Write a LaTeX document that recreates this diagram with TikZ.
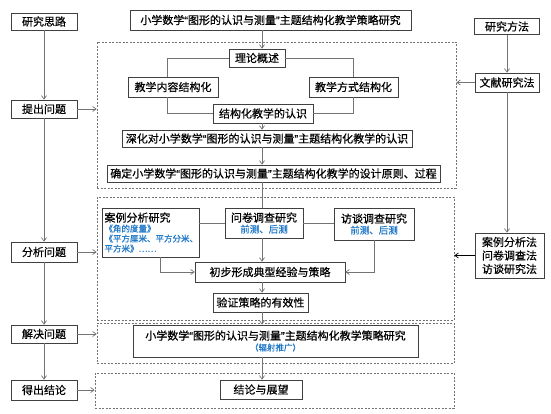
\documentclass[tikz,border=0pt]{standalone}
\usepackage{fontspec}
\setmainfont{Noto Sans CJK SC}[UprightFeatures={FakeBold=0.5}]
\newfontfamily\latinq{Liberation Sans}[FakeBold=0.5]
\usetikzlibrary{positioning,arrows.meta}
\definecolor{noteblue}{RGB}{32,120,200}
\newcommand{\tq}[1]{{\latinq\char"201C}#1{\latinq\char"201D}}
\newcommand{\bluenote}[2]{{\fontsize{#1}{#1}\selectfont\color{noteblue}#2}}

\begin{document}
\begin{tikzpicture}[x=1pt,y=-1pt,
  box/.style={draw=black!75,fill=white,line width=0.6pt,inner sep=1pt,font=\fontsize{11}{13}\selectfont},
  frame/.style={draw=black!55,dash pattern=on 2pt off 1.5pt,line width=0.6pt,inner sep=0pt},
  link/.style={draw=black!55,line width=0.7pt},
  arr/.style={link,-{Straight Barb[length=3.5pt,width=5pt]}}]
\useasboundingbox (0,0) rectangle (551,414);
% dashed frames
\node[frame,minimum width=359pt,minimum height=146pt] (fr1) at (276.5,115) {};
\node[frame,minimum width=357pt,minimum height=123pt] (fr2) at (275.5,258.5) {};
\node[frame,minimum width=357pt,minimum height=40pt] (fr3) at (275.5,343) {};
\node[frame,minimum width=359pt,minimum height=35pt] (fr4) at (274.5,390.5) {};
\coordinate (axis) at (262,0);
% left column
\node[box,minimum width=66pt,minimum height=17pt] (idea) at (44,21.5) {研究思路};
\node[box,minimum width=66pt,minimum height=18pt] (pose) at (44,109) {提出问题};
\node[box,minimum width=66pt,minimum height=20pt] (anal) at (44,252) {分析问题};
\node[box,minimum width=66pt,minimum height=18pt] (solve) at (44,334) {解决问题};
\node[box,minimum width=66pt,minimum height=20pt] (concl) at (44,390) {得出结论};
% right column
\node[box,minimum width=65pt,minimum height=16pt] (method) at (507,26.5) {研究方法};
\node[box,minimum width=64pt,minimum height=19pt] (lit) at (507,82.5) {文献研究法};
\node[box,minimum width=69pt,minimum height=45pt,align=center,font=\fontsize{11}{13.5}\selectfont] (meths) at (509.5,255.5) {案例分析法\\问卷调查法\\访谈研究法};
% main flow
\node[box,minimum width=281pt,minimum height=20pt] (title) at (270.5,20) {小学数学\tq{图形的认识与测量}主题结构化教学策略研究};
\node[box,minimum width=56pt,minimum height=18pt] (theory) at (257,58) {理论概述};
\node[box,minimum width=90pt,minimum height=20pt] (content) at (173,87) {教学内容结构化};
\node[box,minimum width=89pt,minimum height=20pt] (mode) at (353.5,87) {教学方式结构化};
\node[box,minimum width=100pt,minimum height=19pt] (struct) at (263,113.5) {结构化教学的认识};
\node[box,minimum width=290pt,minimum height=17pt] (deepen) at (267,138.5) {深化对小学数学\tq{图形的认识与测量}主题结构化教学的认识};
\node[box,minimum width=333pt,minimum height=17pt] (design) at (273.5,173.5) {确定小学数学\tq{图形的认识与测量}主题结构化教学的设计原则、过程};
\node[box,minimum width=97pt,minimum height=49pt,text width=92pt,align=left,font=\fontsize{8.5}{10}\selectfont] (case) at (150.5,232.5) {{\fontsize{11}{13}\selectfont 案例分析研究}\\\bluenote{8.5}{《角的度量》}\\\bluenote{8.5}{《平方厘米、平方分米、}\\\bluenote{8.5}{平方米》……}};
\node[box,minimum width=78pt,minimum height=30pt,align=center] (survey) at (264,223) {问卷调查研究\\[-2pt]\bluenote{9.5}{前测、后测}};
\node[box,minimum width=80pt,minimum height=32pt,align=center] (interview) at (374,224) {访谈调查研究\\[-2pt]\bluenote{9.5}{前测、后测}};
\node[box,minimum width=150pt,minimum height=20pt] (prelim) at (270,272) {初步形成典型经验与策略};
\node[box,minimum width=95pt,minimum height=19pt] (verify) at (260.5,302.5) {验证策略的有效性};
\node[box,minimum width=285pt,minimum height=32pt,align=center] (radiate) at (275.5,341) {小学数学\tq{图形的认识与测量}主题结构化教学策略研究\\[-2pt]\bluenote{8.5}{（辐射推广）}};
\node[box,minimum width=82pt,minimum height=19pt] (outlook) at (261,389.5) {结论与展望};
% left connectors
\draw[arr] (idea) -- (pose);
\draw[arr] (pose) -- (anal);
\draw[arr] (anal) -- (solve);
\draw[arr] (solve) -- (concl);
\draw[arr] (pose.east) -- (pose.east -| fr1.west);
\draw[arr] (anal.east) -- (anal.east -| fr2.west);
\draw[arr] (solve.east) -- (solve.east -| fr3.west);
\draw[arr] (concl.east) -- (concl.east -| fr4.west);
% right connectors
\draw[arr] (method) -- (lit);
\draw[arr] (lit.west) -- (lit.west -| fr1.east);
\draw[arr] (lit.south) -- (lit.south |- meths.north);
\draw[arr,draw=black] (meths.west) -- (meths.west -| fr2.east);
% main connectors
\draw[arr] (title.south -| axis) -- (theory.north -| axis);
\draw[link] (theory.west) -| ([xshift=-6pt]content.north);
\draw[link] (theory.east) -| (mode.north);
\draw[link] ([xshift=-6pt]content.south) |- (struct.west);
\draw[link] (mode.south) |- (struct.east);
\draw[arr] (struct.south -| axis) -- (deepen.north -| axis);
\draw[arr] (deepen.south -| axis) -- (design.north -| axis);
\draw[link] (design.south -| axis) -- (survey.north -| axis);
\draw[link] (survey.west -| case.east) -- (survey.west);
\draw[link] (survey.east) -- (survey.east -| interview.west);
\draw[arr] (survey.south -| axis) -- (prelim.north -| axis);
\draw[arr] ([xshift=10pt]case.south) |- (prelim.west);
\draw[arr] (interview.south) |- (prelim.east);
\draw[arr] (prelim.south -| axis) -- (verify.north -| axis);
\draw[arr] (verify.south -| axis) -- (radiate.north -| axis);
\draw[arr] (radiate.south -| axis) -- (outlook.north -| axis);
\end{tikzpicture}
\end{document}
